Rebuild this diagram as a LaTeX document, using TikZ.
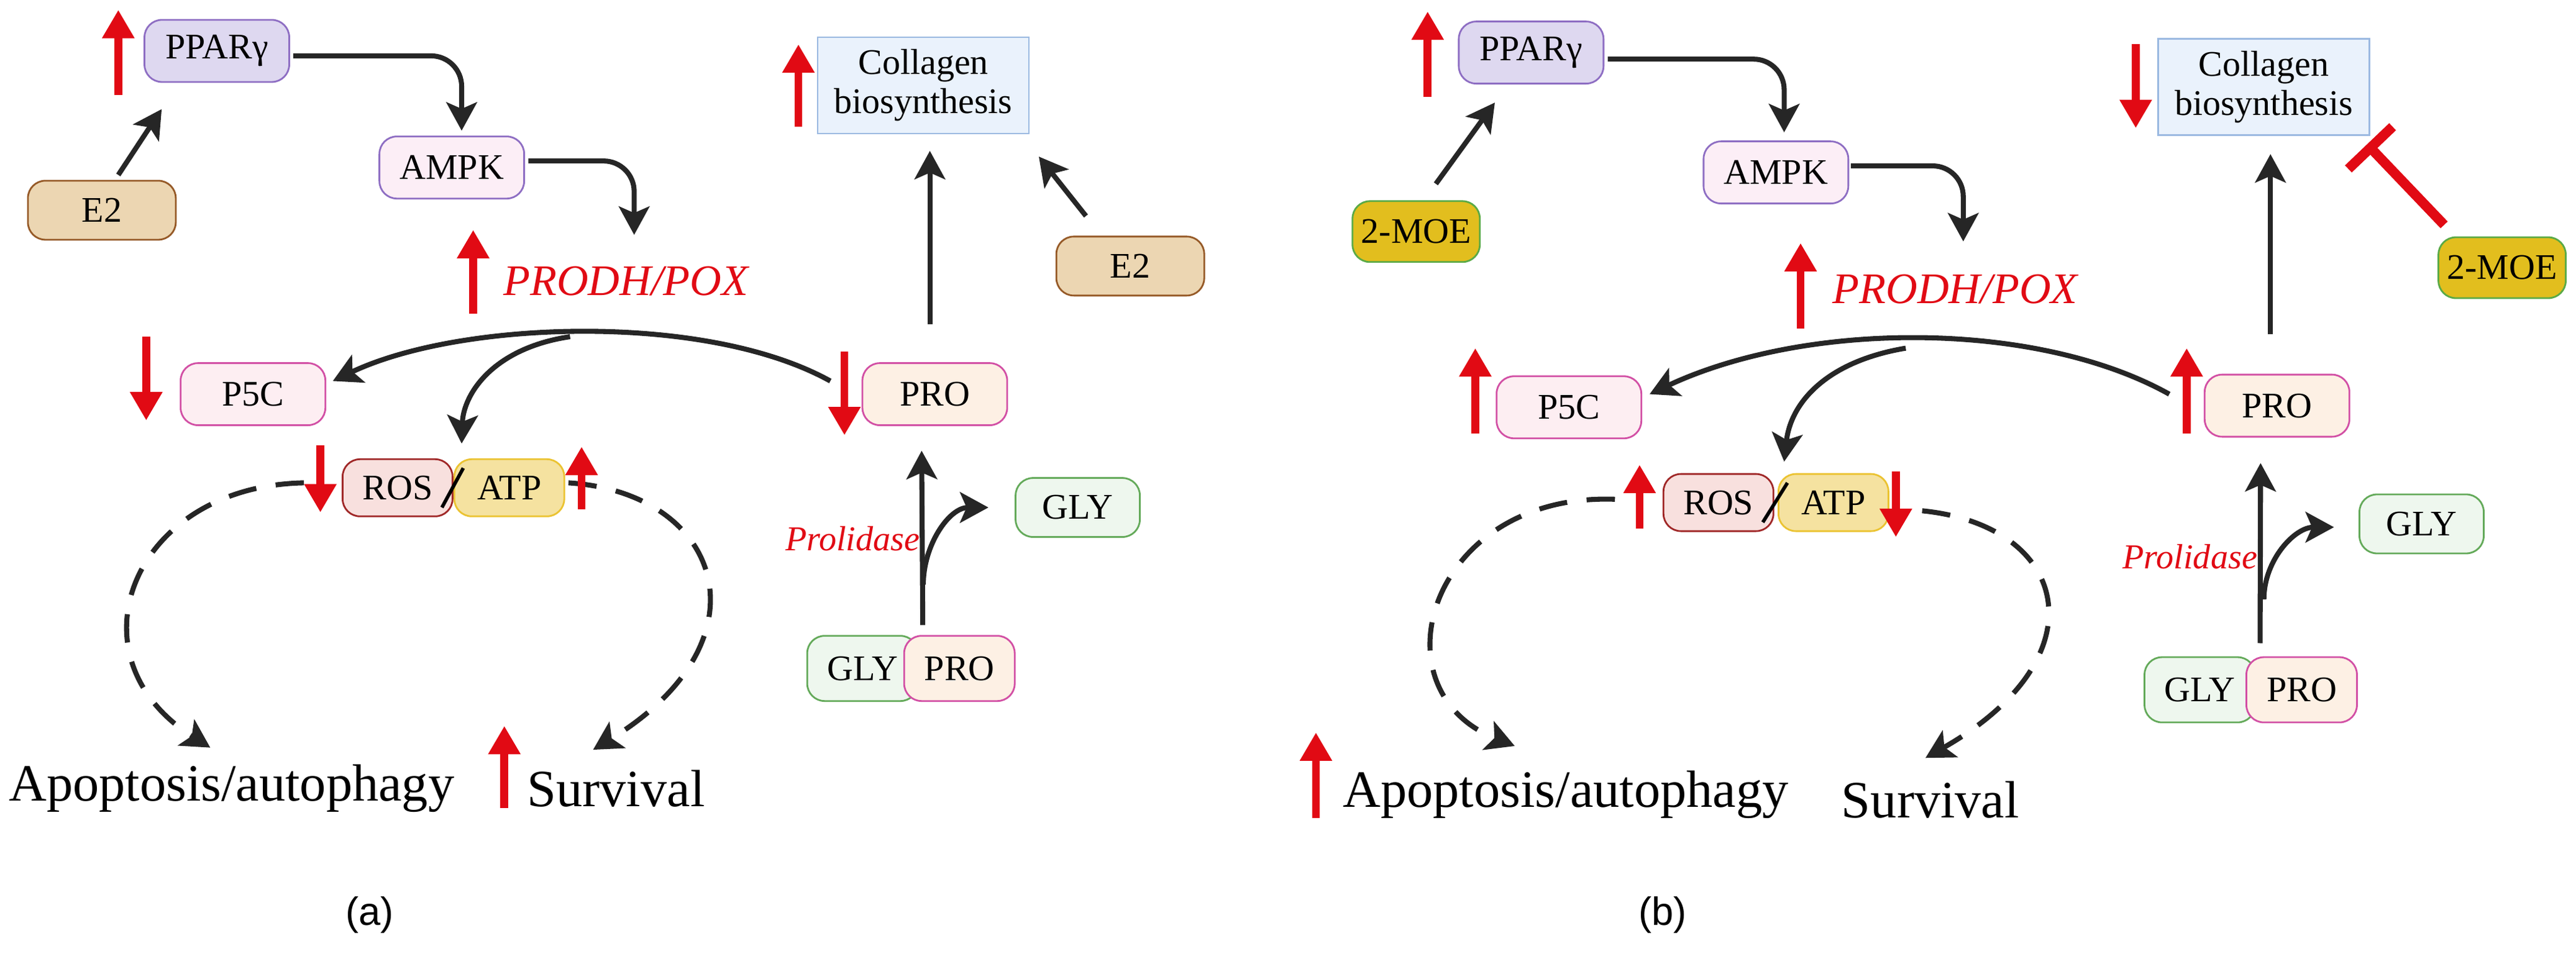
\documentclass[tikz,border=0pt]{standalone}
\usepackage{fontspec}
\setmainfont{Liberation Serif}
\newfontfamily\labelsans{Liberation Sans}
\usepackage{xcolor}
\usetikzlibrary{arrows.meta, positioning, calc}

\definecolor{upred}{RGB}{225,10,20}
\definecolor{pparfill}{RGB}{222,216,240}
\definecolor{purpleline}{RGB}{142,110,195}
\definecolor{ampkfill}{RGB}{252,238,246}
\definecolor{estfill}{RGB}{236,214,178}
\definecolor{estline}{RGB}{150,90,40}
\definecolor{moefill}{RGB}{226,190,30}
\definecolor{moeline}{RGB}{90,170,70}
\definecolor{collfill}{RGB}{234,242,252}
\definecolor{collline}{RGB}{155,185,225}
\definecolor{pinkline}{RGB}{210,80,165}
\definecolor{pfcfill}{RGB}{253,238,242}
\definecolor{profill}{RGB}{253,240,228}
\definecolor{rosfill}{RGB}{248,224,222}
\definecolor{rosline}{RGB}{160,40,40}
\definecolor{atpfill}{RGB}{245,226,160}
\definecolor{atpline}{RGB}{235,195,50}
\definecolor{glyfill}{RGB}{238,247,238}
\definecolor{glyline}{RGB}{100,170,90}

\begin{document}
\begin{tikzpicture}[
    x=0.02644cm, y=-0.02644cm,
    box/.style={draw, rounded corners=8pt, minimum width=2.33cm, minimum height=1cm, inner sep=1pt, line width=0.8pt, align=center, font=\fontsize{16.5}{18}\selectfont},
    ppar/.style={box, fill=pparfill, draw=purpleline},
    ampk/.style={box, fill=ampkfill, draw=purpleline},
    est/.style={box, fill=estfill, draw=estline, minimum width=2.38cm, minimum height=0.95cm},
    moe/.style={box, fill=moefill, draw=moeline, minimum width=2.05cm, minimum height=0.98cm},
    coll/.style={box, rounded corners=0pt, fill=collfill, draw=collline, minimum width=3.4cm, minimum height=1.55cm},
    pfc/.style={box, fill=pfcfill, draw=pinkline},
    pro/.style={box, fill=profill, draw=pinkline},
    ros/.style={box, fill=rosfill, draw=rosline, minimum width=1.77cm, minimum height=0.92cm},
    atp/.style={box, fill=atpfill, draw=atpline, minimum width=1.77cm, minimum height=0.92cm},
    gly/.style={box, fill=glyfill, draw=glyline, minimum width=1.78cm, minimum height=1.05cm},
    glyr/.style={gly, minimum width=2cm, minimum height=0.95cm},
    pair/.style={pro, minimum width=1.78cm, minimum height=1.05cm},
    outcome/.style={inner sep=0pt, font=\fontsize{24}{26}\selectfont},
    enz/.style={text=upred, font=\itshape\fontsize{20}{22}\selectfont},
    prol/.style={text=upred, font=\itshape\fontsize{16}{18}\selectfont},
    arr/.style={-{Stealth[length=13pt, width=14pt, inset=3pt]}, line width=2.3pt, draw=black!85},
    darr/.style={arr, dash pattern=on 13pt off 9pt},
    redarr/.style={-{Triangle[length=13pt, width=14pt]}, line width=3.6pt, draw=upred},
    inh/.style={-{Bar[width=28pt, line width=4.5pt]}, line width=4.5pt, draw=upred},
    panel/.style={font=\labelsans\fontsize{18}{20}\selectfont},
]
\useasboundingbox (0,0) rectangle (1568,583.6);

% ---------- panel (a) ----------
\node[ppar] (ppa) at (132,31) {PPARγ};
\node[est] (e2a) at (62,128) {E2};
\node[ampk] (ampa) at (275,102) {AMPK};
\node[coll] (cola) at (562,52) {Collagen\\biosynthesis};
\node[est] (e2b) at (688,162) {E2};
\node[pfc] (p5a) at (154,240) {P5C};
\node[pro] (proa) at (569,240) {PRO};
\node[ros] (rosa) at (242,297) {ROS};
\node[atp] (atpa) at (310,297) {ATP};
\node[gly] (pgla) at (525,407) {GLY};
\node[pair] (ppra) at (584,407) {PRO};
\node[glyr] (glya) at (656,309) {GLY};
\node[enz] (poxta) at (381,171) {PRODH/POX};
\node[prol] (prla) at (519,328) {Prolidase};
\node[outcome] (apopa) at (141,480) {Apoptosis/autophagy};
\node[outcome] (surva) at (375,480) {Survival};
\node[panel] (laba) at (225,557) {(a)};
\coordinate (poxa) at (386,143);
\coordinate (brancha) at (347,205);
\coordinate (splita) at (562,356);

\draw[arr] ($(e2a.north)+(10,-3)$) -- ($(ppa.south west)+(11,16)$);
\draw[arr, rounded corners=14pt] ($(ppa.east)+(2,3)$) -| ($(ampa.north)+(6,-3)$);
\draw[arr, rounded corners=14pt] ($(ampa.east)+(2,-4)$) -| (poxa);
\draw[arr] ($(proa.north)+(-3,-23)$) -- ($(cola.south)+(4,10)$);
\draw[arr] ($(e2b.north)+(-27,-12)$) -- ($(cola.south east)+(5.5,13.5)$);
\draw[arr] ($(proa.west)+(-19,-8)$) .. controls (430,190) and (280,195) .. ($(p5a.east)+(4,-8)$);
\draw[arr] (brancha) .. controls (300,212) and (282,240) .. ($(rosa.north east)+(5,-9)$);
\draw[line width=1.6pt] ($(rosa.east)+(-7,12)$) -- ($(atpa.west)+(6,-12)$);
\draw[darr] ($(rosa.west)+(-23,-3)$) .. controls (80,296) and (40,400) .. ($(apopa.north)+(-13,-10)$);
\draw[darr] ($(atpa.east)+(2,-3)$) .. controls (440,300) and (470,390) .. ($(surva.north)+(-14,-12)$);
\draw[arr] ($(pgla.north east)+(2.5,-6)$) -- ($(proa.south)+(-8,15)$);
\draw[arr] (splita) to[out=90, in=180] ($(glya.west)+(-16,0)$);

\draw[redarr] (72,58) -- (72,6);
\draw[redarr] (486,77) -- (486,27);
\draw[redarr] (288,191) -- (288,140);
\draw[redarr] (89,205) -- (89,256);
\draw[redarr] (514,214) -- (514,265);
\draw[redarr] (195,271) -- (195,312);
\draw[redarr] (354,310) -- (354,272);
\draw[redarr] (307,492) -- (307,442);

% ---------- panel (b) ----------
\node[ppar] (ppb) at (932,32) {PPARγ};
\node[moe] (moea) at (862,141) {2-MOE};
\node[ampk] (ampb) at (1081,105) {AMPK};
\node[coll] (colb) at (1378,53) {Collagen\\biosynthesis};
\node[moe] (moeb) at (1523,163) {2-MOE};
\node[pfc] (p5b) at (955,248) {P5C};
\node[pro] (prob) at (1386,247) {PRO};
\node[ros] (rosb) at (1046,306) {ROS};
\node[atp] (atpb) at (1116,306) {ATP};
\node[gly] (pglb) at (1339,420) {GLY};
\node[pair] (pprb) at (1401,420) {PRO};
\node[glyr] (glyb) at (1474,319) {GLY};
\node[enz] (poxtb) at (1190,176) {PRODH/POX};
\node[prol] (prlb) at (1333,339) {Prolidase};
\node[outcome] (apopb) at (953,484) {Apoptosis/autophagy};
\node[outcome] (survb) at (1175,487) {Survival};
\node[panel] (labb) at (1012,557) {(b)};
\coordinate (poxb) at (1195,147);
\coordinate (branchb) at (1160,212);
\coordinate (splitb) at (1378,365);

\draw[arr] ($(moea.north)+(12,-10)$) -- ($(ppb.south west)+(22.5,11)$);
\draw[arr, rounded corners=14pt] ($(ppb.east)+(2,4)$) -| ($(ampb.north)+(5,-5)$);
\draw[arr, rounded corners=14pt] ($(ampb.east)+(1,-4)$) -| (poxb);
\draw[arr] ($(prob.north)+(-4,-24)$) -- ($(colb.south)+(4,11)$);
\draw[inh] ($(moeb.north west)+(4,-7)$) -- ($(colb.south east)+(-2,5)$);
\draw[arr] ($(prob.west)+(-21,-7)$) .. controls (1240,195) and (1100,195) .. ($(p5b.east)+(4.5,-8)$);
\draw[arr] (branchb) .. controls (1112,220) and (1090,245) .. ($(rosb.north east)+(6,-7)$);
\draw[line width=1.6pt] ($(rosb.east)+(-7,12)$) -- ($(atpb.west)+(6,-12)$);
\draw[darr] ($(rosb.west)+(-29,-2)$) .. controls (870,300) and (835,420) .. ($(apopb.north)+(-31,-15)$);
\draw[darr] ($(atpb.east)+(20,5)$) .. controls (1260,320) and (1280,400) .. ($(survb.north)+(-3,-14)$);
\draw[arr] ($(pglb.north east)+(2.5,-8)$) -- ($(prob.south)+(-10,15.5)$);
\draw[arr] (splitb) to[out=90, in=180] ($(glyb.west)+(-15,2)$);

\draw[redarr] (869,59) -- (869,7);
\draw[redarr] (1300,27) -- (1300,78);
\draw[redarr] (1096,200) -- (1096,148);
\draw[redarr] (898,264) -- (898,212);
\draw[redarr] (1331,264) -- (1331,212);
\draw[redarr] (998,322) -- (998,283);
\draw[redarr] (1154,287) -- (1154,327);
\draw[redarr] (801,498) -- (801,446);
\end{tikzpicture}
\end{document}
